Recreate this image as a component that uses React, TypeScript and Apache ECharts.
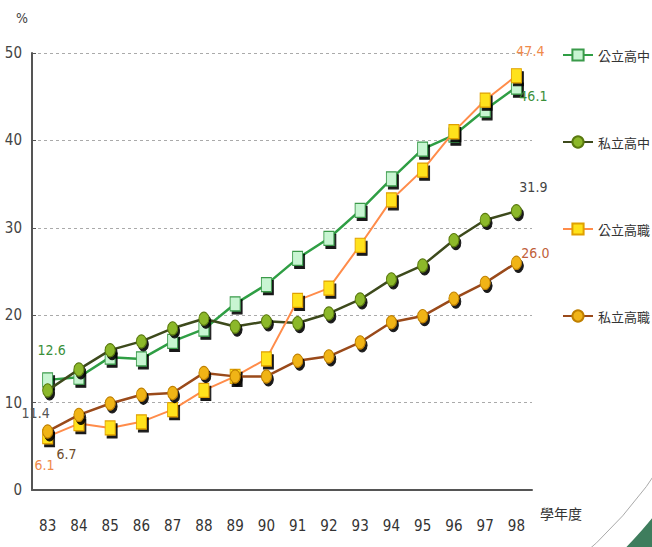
import React, { useEffect, useRef } from "react";
import * as echarts from "echarts";

const years = ["83", "84", "85", "86", "87", "88", "89", "90", "91", "92", "93", "94", "95", "96", "97", "98"];
const publicHigh = [12.6, 12.9, 15.2, 15.0, 17.0, 18.4, 21.3, 23.5, 26.5, 28.8, 32.0, 35.6, 39.0, 40.6, 43.5, 46.1];
const privateHigh = [11.4, 13.8, 16.0, 17.0, 18.5, 19.6, 18.7, 19.3, 19.1, 20.2, 21.8, 24.1, 25.7, 28.6, 30.9, 31.9];
const publicVoc = [6.1, 7.6, 7.1, 7.8, 9.2, 11.4, 13.0, 15.0, 21.7, 23.1, 28.0, 33.2, 36.6, 41.0, 44.6, 47.4];
const privateVoc = [6.7, 8.6, 9.9, 10.9, 11.1, 13.4, 13.0, 13.0, 14.8, 15.3, 16.9, 19.2, 19.9, 21.9, 23.7, 26.0];
const seriesNames = ["公立高中", "私立高中", "公立高職", "私立高職"];

const numFont = "'DejaVu Sans Condensed', 'Liberation Sans Narrow', 'Liberation Sans', sans-serif";
const cjkFont = "'Noto Sans CJK TC', 'Noto Sans CJK SC', sans-serif";

function withEndLabels(values: number[], first: any, last: any) {
  return values.map((v, i) => {
    if (i === 0 && first) return { value: v, label: { show: true, ...first } };
    if (i === values.length - 1 && last) return { value: v, label: { show: true, ...last } };
    return v;
  });
}

function lbl(color: string, offset: number[]) {
  return {
    position: "inside",
    offset,
    color,
    fontSize: 14,
    fontFamily: numFont,
    formatter: (p: any) => Number(p.value).toFixed(1),
  };
}

const shadow = { shadowColor: "rgba(0,0,0,0.9)", shadowOffsetX: 2, shadowOffsetY: 3, shadowBlur: 0 };

export default function App() {
  const ref = useRef<HTMLDivElement>(null);
  useEffect(() => {
    if (!ref.current) return;
    const chart = echarts.init(ref.current, undefined, { renderer: "svg" });
    chart.setOption({
      animation: false,
      backgroundColor: "#ffffff",
      grid: { left: 32, right: 120, top: 53, bottom: 57, containLabel: false },
      legend: {
        orient: "vertical",
        left: 562,
        top: 48,
        padding: 0,
        itemWidth: 30,
        itemHeight: 14,
        itemGap: 73,
        data: seriesNames,
        textStyle: { fontSize: 13, lineHeight: 14, color: "#333", fontFamily: cjkFont },
      },
      xAxis: {
        type: "category",
        data: years,
        boundaryGap: true,
        axisLine: { lineStyle: { color: "#555", width: 2 } },
        axisTick: { inside: true, length: 6, lineStyle: { color: "#555" } },
        axisLabel: { interval: 0, margin: 28, fontSize: 15, color: "#333", fontFamily: numFont },
      },
      yAxis: {
        type: "value",
        min: 0,
        max: 50,
        interval: 10,
        axisLine: { show: true, lineStyle: { color: "#555", width: 2 } },
        axisTick: { show: true, inside: true, length: 4, lineStyle: { color: "#555" } },
        axisLabel: { margin: 10, fontSize: 15, color: "#444", fontFamily: numFont },
        splitLine: { show: true, lineStyle: { color: "#aaa", type: [3, 3], width: 1 } },
      },
      graphic: [
        {
          type: "ring",
          z: -10,
          silent: true,
          shape: { cx: 300, cy: 230, r0: 455, r: 800 },
          style: { fill: "#3e7d5d" },
        },
        {
          type: "arc",
          z: -10,
          silent: true,
          shape: { cx: 300, cy: 230, r: 431, startAngle: 0.55, endAngle: 0.9 },
          style: { stroke: "#aaaaaa", lineWidth: 1, fill: "none" },
        },
        {
          type: "text",
          left: 16,
          top: 11,
          style: { text: "%", fontSize: 14, fill: "#444", fontFamily: numFont },
        },
        {
          type: "text",
          left: 540,
          top: 506,
          style: { text: "學年度", fontSize: 14, fill: "#333", fontFamily: cjkFont },
        },
      ],
      series: [
        {
          name: "公立高中",
          type: "line",
          data: withEndLabels(publicHigh, lbl("#3a8f3a", [4, -30]), lbl("#3a8f3a", [17, 9])),
          symbol: "rect",
          symbolSize: [10, 14],
          lineStyle: { color: "#2f9e44", width: 2.5 },
          itemStyle: { color: "#c8f5d2", borderColor: "#3a9a4a", borderWidth: 1, ...shadow },
          z: 3,
        },
        {
          name: "私立高中",
          type: "line",
          data: withEndLabels(privateHigh, lbl("#555555", [-12, 23]), lbl("#444444", [17, -24])),
          symbol: "circle",
          symbolSize: [10, 13],
          lineStyle: { color: "#3d4a1c", width: 2.5 },
          itemStyle: { color: "#8cb82a", borderColor: "#5a7a10", borderWidth: 1, ...shadow },
          z: 4,
        },
        {
          name: "公立高職",
          type: "line",
          data: withEndLabels(publicVoc, lbl("#f08a4b", [-3, 28]), lbl("#f08a4b", [14, -25])),
          symbol: "rect",
          symbolSize: [10, 14],
          lineStyle: { color: "#ff8c4a", width: 2 },
          itemStyle: { color: "#ffe21a", borderColor: "#e0a000", borderWidth: 1, ...shadow },
          z: 5,
        },
        {
          name: "私立高職",
          type: "line",
          data: withEndLabels(privateVoc, lbl("#6b4a2a", [19, 23]), lbl("#c0603a", [19, -10])),
          symbol: "circle",
          symbolSize: [10, 13],
          lineStyle: { color: "#9a4a1a", width: 2.5 },
          itemStyle: { color: "#f0b418", borderColor: "#c08000", borderWidth: 1, ...shadow },
          z: 6,
        },
      ],
    });
    return () => chart.dispose();
  }, []);
  return (
    <div
      ref={ref}
      style={{ position: "fixed", left: 0, top: 0, width: 652, height: 547, background: "#fff" }}
    />
  );
}
